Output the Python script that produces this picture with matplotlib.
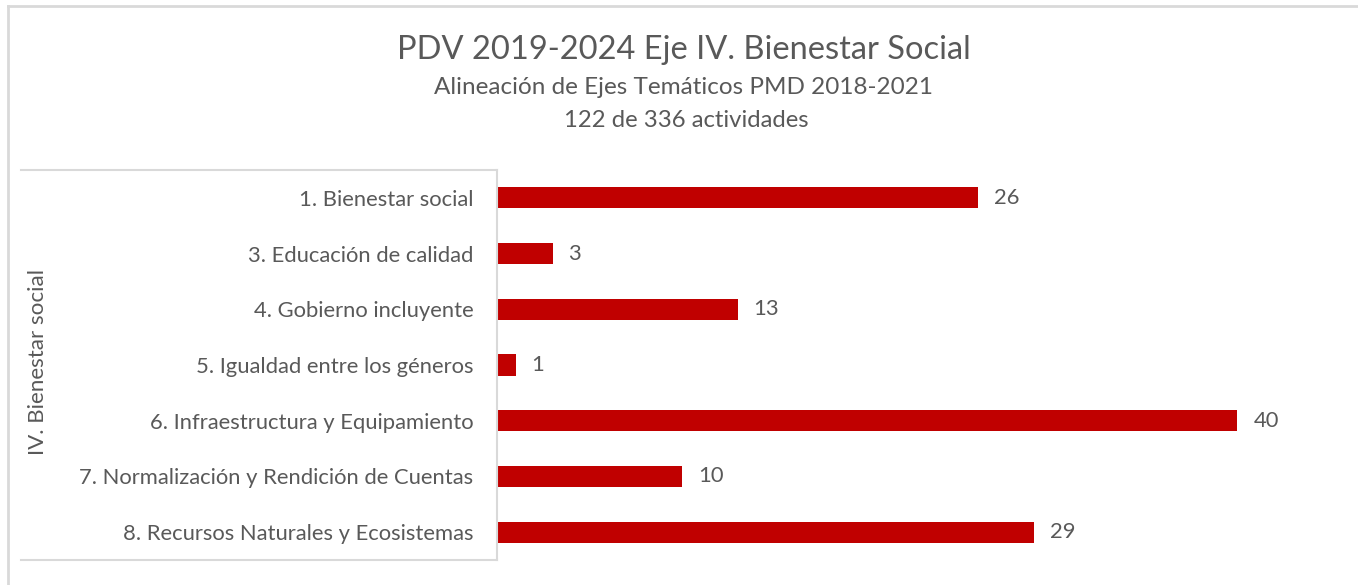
import matplotlib
matplotlib.use("Agg")
import matplotlib.pyplot as plt
from matplotlib.lines import Line2D

categories = [
    "1. Bienestar social",
    "3. Educación de calidad",
    "4. Gobierno incluyente",
    "5. Igualdad entre los géneros",
    "6. Infraestructura y Equipamiento",
    "7. Normalización y Rendición de Cuentas",
    "8. Recursos Naturales y Ecosistemas",
]
values = [26, 3, 13, 1, 40, 10, 29]
group_label = "IV. Bienestar social"
title = "PDV 2019-2024 Eje IV. Bienestar Social"
subtitle_1 = "Alineación de Ejes Temáticos PMD 2018-2021"
subtitle_2 = "122 de 336 actividades"

plt.rcParams['font.family'] = ['Lato', 'DejaVu Sans']
TXT = "#595959"
LINE = "#D9D9D9"
BAR = "#C00000"

W, H = 1358, 585
fig = plt.figure(figsize=(W / 100, H / 100), dpi=100)

def fx(px):
    return px / W

def fy(py):
    return 1 - py / H

ax_left, ax_right, ax_top, ax_bottom = 497, 1330, 170, 560
ax = fig.add_axes([fx(ax_left), fy(ax_bottom), fx(ax_right - ax_left), (ax_bottom - ax_top) / H])

ypos = list(range(len(categories)))
ax.barh(ypos, values, height=0.38, color=BAR)
ax.set_ylim(len(categories) - 0.5, -0.5)
ax.set_xlim(0, 45)
ax.set_yticks(ypos)
ax.set_yticklabels(categories, fontsize=15.8, color=TXT)
ax.tick_params(axis='y', length=0, pad=17)
ax.set_xticks([])
for s in ["top", "right", "bottom"]:
    ax.spines[s].set_visible(False)
ax.spines["left"].set_color(LINE)
ax.spines["left"].set_linewidth(1.5)

for y, v in zip(ypos, values):
    ax.annotate(str(v), (v, y), xytext=(11.5, 0), textcoords="offset points",
                ha="left", va="center", fontsize=15.8, color=TXT)

# outer chart border
fig.add_artist(Line2D([fx(8), fx(8)], [fy(6), 0], color=LINE, lw=2))
fig.add_artist(Line2D([fx(8), 1], [fy(6), fy(6)], color=LINE, lw=2))
# category box lines
fig.add_artist(Line2D([fx(21), fx(ax_left)], [fy(ax_top), fy(ax_top)], color=LINE, lw=1.5))
fig.add_artist(Line2D([fx(21), fx(ax_left)], [fy(ax_bottom), fy(ax_bottom)], color=LINE, lw=1.5))

fig.text(fx(38), fy(362), group_label, rotation=90, ha="center", va="center",
         fontsize=16.1, color=TXT)

fig.text(fx(684), fy(50), title, ha="center", va="center", fontsize=23.5, color=TXT)
fig.text(fx(684), fy(88), subtitle_1, ha="center", va="center", fontsize=17.5, color=TXT)
fig.text(fx(686), fy(121), subtitle_2, ha="center", va="center", fontsize=17.2, color=TXT)

fig.savefig("out.png", dpi=100, facecolor="white")
